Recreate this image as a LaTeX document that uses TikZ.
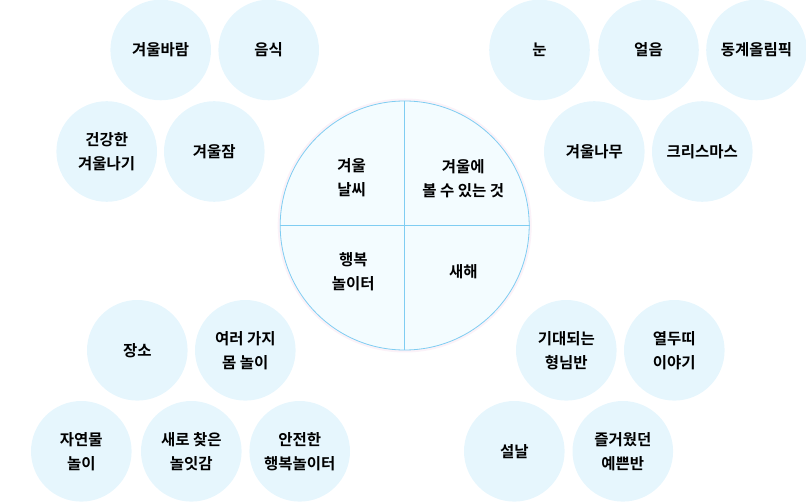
\documentclass[tikz,border=0pt]{standalone}
\usepackage{fontspec}
\newfontfamily\kr{Noto Sans CJK KR}[BoldFont={* Bold}]
\definecolor{bubble}{HTML}{E6F6FD}
\definecolor{mainfill}{HTML}{F3FCFF}
\definecolor{mainline}{HTML}{7FCDF2}
\definecolor{shadowpink}{HTML}{FBF2F8}
\begin{document}
\begin{tikzpicture}[x=1pt,y=-1pt,
  bubble/.style={circle,fill=bubble,minimum size=100.6pt,inner sep=0pt,align=center,
    font=\kr\bfseries\fontsize{15.5}{24}\selectfont,text=black},
  quad/.style={align=center,inner sep=0pt,font=\kr\bfseries\fontsize{15.5}{24.5}\selectfont,text=black}]
\useasboundingbox (0,0) rectangle (806,502);
% main circle
\fill[shadowpink] (404.7,225.5) circle (127);
\node[circle,draw=mainline,fill=mainfill,line width=0.8pt,minimum size=249pt,inner sep=0pt] (main) at (404.7,225.5) {};
\draw[mainline,line width=0.8pt] (main.north) -- (main.south);
\draw[mainline,line width=0.8pt] (main.west) -- (main.east);
\node[quad] (q1) at (351.7,177.5) {겨울\\날씨};
\node[quad] (q2) at (463.3,178.5) {겨울에\\볼 수 있는 것};
\node[quad] (q3) at (353.3,271.7) {행복\\놀이터};
\node[quad] (q4) at (463.3,271.7) {새해};
% top left
\node[bubble] (a1) at (160.7,50) {겨울바람};
\node[bubble] (a2) at (268.7,50) {음식};
\node[bubble] (a3) at (106.7,151.5) {건강한\\겨울나기};
\node[bubble] (a4) at (214.3,151.5) {겨울잠};
% top right
\node[bubble] (b1) at (539.5,50) {눈};
\node[bubble] (b2) at (648.5,50) {얼음};
\node[bubble] (b3) at (756.5,50) {동계올림픽};
\node[bubble] (b4) at (594.3,151.5) {겨울나무};
\node[bubble] (b5) at (702.3,151.5) {크리스마스};
% bottom left
\node[bubble] (c1) at (137.3,350.3) {장소};
\node[bubble] (c2) at (245.3,350.3) {여러 가지\\몸 놀이};
\node[bubble] (c3) at (81.3,451.3) {자연물\\놀이};
\node[bubble] (c4) at (191.3,451.3) {새로 찾은\\놀잇감};
\node[bubble] (c5) at (299.7,451.3) {안전한\\행복놀이터};
% bottom right
\node[bubble] (d1) at (566.3,350.3) {기대되는\\형님반};
\node[bubble] (d2) at (674.3,350.3) {열두띠\\이야기};
\node[bubble] (d3) at (514.3,451.3) {설날};
\node[bubble] (d4) at (622.8,451.3) {즐거웠던\\예쁜반};
\end{tikzpicture}
\end{document}
